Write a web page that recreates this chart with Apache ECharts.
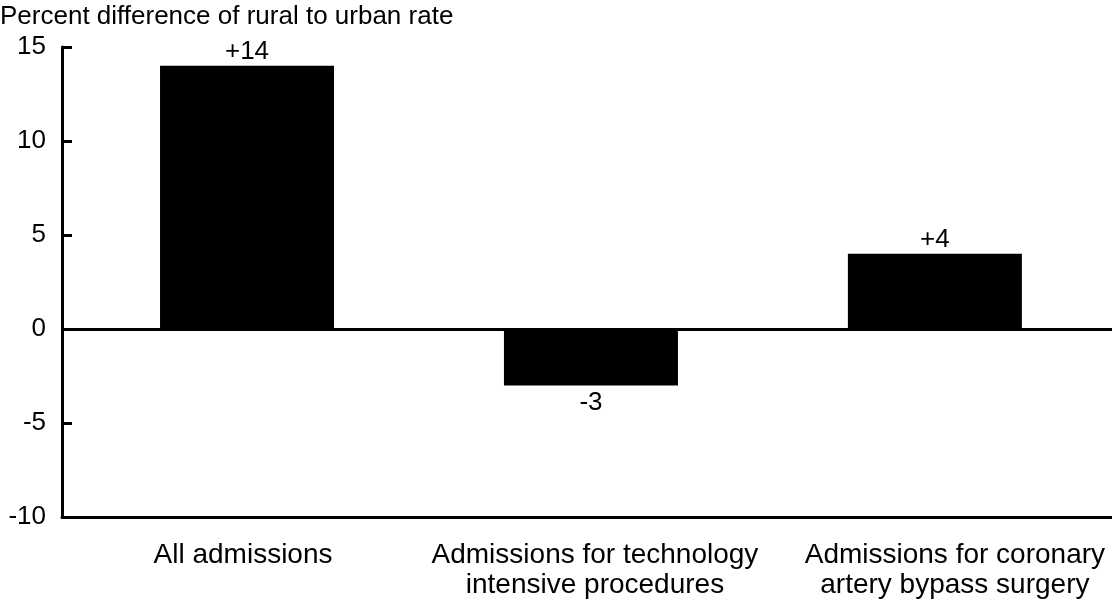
<!DOCTYPE html>
<html>
<head>
<meta charset="utf-8">
<script src="https://cdn.jsdelivr.net/npm/echarts@6/dist/echarts.min.js"></script>
<style>
  html, body { margin: 0; padding: 0; background: #fff; }
  #chart { width: 1112px; height: 606px; }
</style>
</head>
<body>
<div id="chart"></div>
<script>
// Rural vs urban hospital admission rates, percent difference
const categories = [
  'All admissions',
  'Admissions for technology\nintensive procedures',
  'Admissions for coronary\nartery bypass surgery'
];
const values = [14, -3, 4];
const yTicks = { min: -10, max: 15, step: 5 };
const axisTitle = 'Percent difference of rural to urban rate';

const FONT = 'Liberation Sans, Arial, Helvetica, sans-serif';

// categories sit at 0, 1, 2 along a numeric x axis so the bars and the
// y axis line can be placed independently
const positions = categories.map((_, i) => i);
const labelShift = [-8, 8, 40]; // extra side padding per label (px)

const chart = echarts.init(document.getElementById('chart'), null, { renderer: 'canvas' });

const rich = {};
labelShift.forEach((s, i) => {
  rich['c' + i] = {
    fontFamily: FONT,
    fontSize: 28,
    lineHeight: 30,
    color: '#000',
    padding: s >= 0 ? [0, 0, 0, s] : [0, -s, 0, 0]
  };
});

chart.setOption({
  backgroundColor: '#ffffff',
  animation: false,
  title: {
    text: axisTitle,
    left: 0,
    top: 4,
    padding: 0,
    textStyle: { fontFamily: FONT, fontSize: 26, fontWeight: 'normal', color: '#000' }
  },
  grid: { left: 62, right: 0, top: 47, bottom: 89, containLabel: false },
  xAxis: {
    type: 'value',
    min: -0.538,
    max: 2.515,
    axisLine: { show: true, onZero: false, lineStyle: { color: '#000', width: 3 } },
    axisTick: { show: false },
    splitLine: { show: false },
    axisLabel: {
      customValues: positions,
      hideOverlap: false,
      margin: 23,
      fontFamily: FONT,
      fontSize: 28,
      lineHeight: 30,
      color: '#000',
      rich: rich,
      formatter: v => {
        const i = Math.round(v);
        if (i < 0 || i >= categories.length || Math.abs(v - i) > 1e-6) return '';
        return categories[i].split('\n').map(l => '{c' + i + '|' + l + '}').join('\n');
      }
    }
  },
  yAxis: {
    type: 'value',
    min: yTicks.min,
    max: yTicks.max,
    interval: yTicks.step,
    axisLine: { show: true, onZero: false, lineStyle: { color: '#000', width: 3 } },
    axisTick: { show: true, inside: true, length: 10, lineStyle: { color: '#000', width: 3 } },
    axisLabel: { color: '#000', fontFamily: FONT, fontSize: 26, margin: 16 },
    splitLine: { show: false }
  },
  series: [{
    type: 'bar',
    data: values.map((v, i) => ({
      value: [positions[i], v],
      label: { position: v < 0 ? 'bottom' : 'top', distance: v < 0 ? 4 : 1 }
    })),
    barWidth: 174,
    itemStyle: { color: '#000' },
    label: {
      show: true,
      color: '#000',
      fontFamily: FONT,
      fontSize: 26,
      formatter: p => {
        const v = p.value[1];
        return (v > 0 ? '+' : '') + v;
      }
    },
    markLine: {
      silent: true,
      symbol: ['none', 'none'],
      label: { show: false },
      lineStyle: { color: '#000', width: 3, type: 'solid' },
      data: [{ yAxis: 0 }]
    }
  }]
});
</script>
</body>
</html>
